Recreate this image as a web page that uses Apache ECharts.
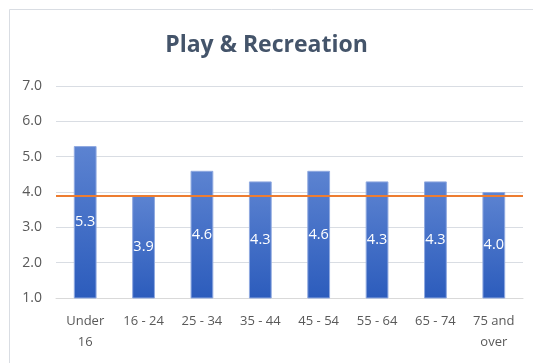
<!DOCTYPE html>
<html><head><meta charset="utf-8">
<script src="https://cdn.jsdelivr.net/npm/echarts@6/dist/echarts.min.js"></script>
<style>html,body{margin:0;padding:0;background:#fff;}#c{width:533px;height:363px;}</style>
</head><body><div id="c"></div>
<script>
const title = 'Play & Recreation';
const categories = ['Under\n16', '16 - 24', '25 - 34', '35 - 44', '45 - 54', '55 - 64', '65 - 74', '75 and\nover'];
const values = [5.3, 3.9, 4.6, 4.3, 4.6, 4.3, 4.3, 4.0];
const referenceLine = 3.9;
const yMin = 1, yMax = 7, yStep = 1;

const chart = echarts.init(document.getElementById('c'));
chart.setOption({
  animation: false,
  backgroundColor: '#fff',
  graphic: [{type: 'rect', shape: {x: 9.5, y: 9.5, width: 600, height: 400}, style: {fill: 'none', stroke: '#d9dde3', lineWidth: 1}}],
  title: {text: title, left: 'center', top: 29, textStyle: {fontFamily: 'Open Sans', fontWeight: 'bold', fontSize: 23, color: '#44546a'}},
  grid: {left: 56, right: 10, top: 86, bottom: 65, containLabel: false},
  xAxis: {type: 'category', data: categories,
    axisLine: {show: true, lineStyle: {color: '#d9d9d9'}}, axisTick: {show: false},
    axisLabel: {color: '#595959', fontFamily: 'Open Sans', fontSize: 13, margin: 13, lineHeight: 21, interval: 0}},
  yAxis: {type: 'value', min: yMin, max: yMax, interval: yStep,
    axisLine: {show: false}, axisTick: {show: false},
    splitLine: {lineStyle: {color: '#d9dde3', width: 1}},
    axisLabel: {color: '#595959', fontFamily: 'Open Sans', fontSize: 14, margin: 14, formatter: v => v.toFixed(1)}},
  series: [{type: 'bar', data: values, barWidth: '39%',
    itemStyle: {color: new echarts.graphic.LinearGradient(0, 0, 0, 1, [{offset: 0, color: '#5c83d1'}, {offset: 1, color: '#2c5cbc'}]), borderColor: '#8fa9e0', borderWidth: 1},
    label: {show: true, position: 'inside', color: '#fff', fontFamily: 'Open Sans', fontSize: 14.5, formatter: p => p.value.toFixed(1)},
    markLine: {silent: true, symbol: 'none', label: {show: false},
      lineStyle: {color: '#ed7d31', width: 2, type: 'solid'},
      data: [{yAxis: referenceLine}]}
  }]
});
</script></body></html>
